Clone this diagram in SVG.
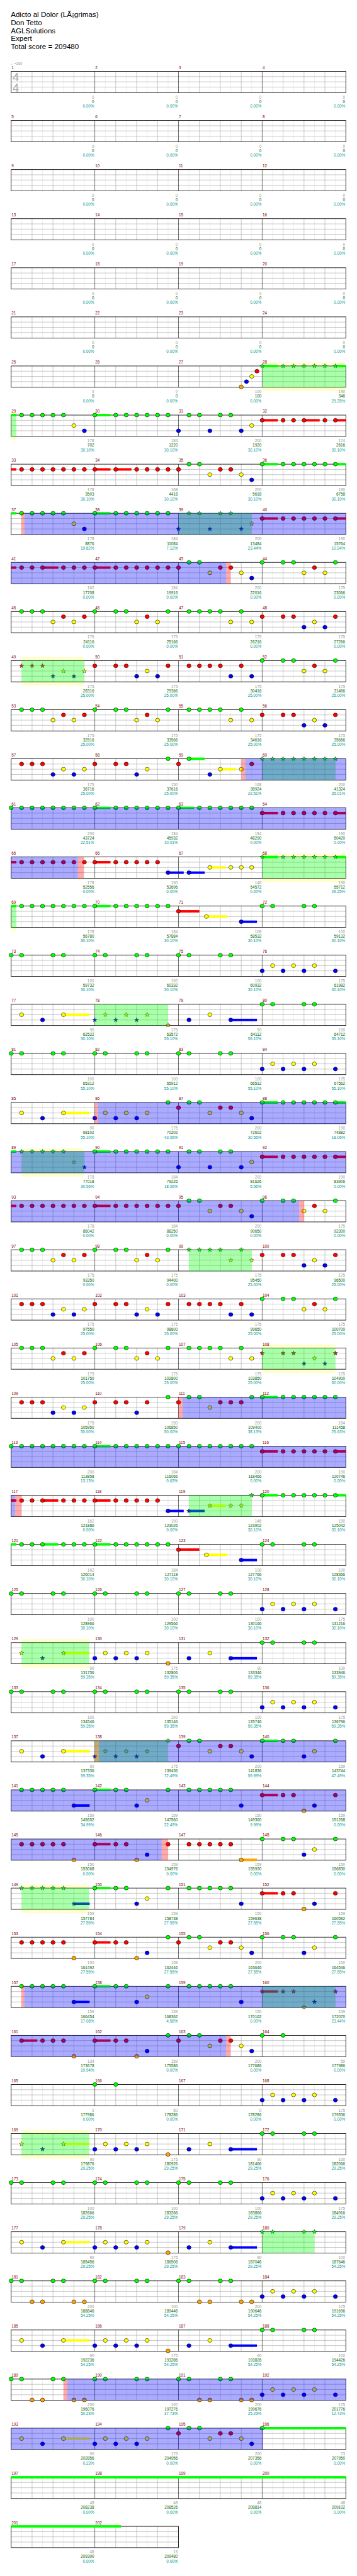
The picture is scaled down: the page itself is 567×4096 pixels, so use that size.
<svg xmlns="http://www.w3.org/2000/svg" width="567" height="4096" viewBox="0 0 567 4096">
<defs>
<style>
text{font-family:'Liberation Sans',Arial,'DejaVu Sans',sans-serif}
.t{font-size:21px;fill:#000}
.n{font-size:11.5px;fill:#800000}
.a,.c,.d{font-size:11.5px;text-anchor:end}
.a{fill:#999}.c{fill:#006400}.d{fill:#009999}
.vg{fill:#0f0;fill-opacity:.333}
.vb{fill:#00f;fill-opacity:.333}
.vp{fill:#f00;fill-opacity:.333}
.bd{fill:#ffffcc}
.sg{fill:#0f0}.sr{fill:#f00}.sy{fill:#ff0}.sb{fill:#00f}.so{fill:#ffa500}
</style>
<ellipse id="g" rx="6" ry="5.5" fill="#0f0" stroke="#000"/>
<ellipse id="r" rx="6" ry="5.5" fill="#f00" stroke="#000"/>
<ellipse id="y" rx="6" ry="5.5" fill="#ff0" stroke="#000"/>
<ellipse id="b" rx="6" ry="5.5" fill="#00f" stroke="#000"/>
<ellipse id="o" rx="6" ry="5.5" fill="#ffa500" stroke="#000"/>
<polygon id="G" points="0,-6.5 1.6,-2.2 6.2,-2 2.6,.8 3.8,5.3 0,2.7 -3.8,5.3 -2.6,.8 -6.2,-2 -1.6,-2.2" fill="#0f0" stroke="#000" stroke-width=".8"/>
<polygon id="R" points="0,-6.5 1.6,-2.2 6.2,-2 2.6,.8 3.8,5.3 0,2.7 -3.8,5.3 -2.6,.8 -6.2,-2 -1.6,-2.2" fill="#f00" stroke="#000" stroke-width=".8"/>
<polygon id="Y" points="0,-6.5 1.6,-2.2 6.2,-2 2.6,.8 3.8,5.3 0,2.7 -3.8,5.3 -2.6,.8 -6.2,-2 -1.6,-2.2" fill="#ff0" stroke="#000" stroke-width=".8"/>
<polygon id="B" points="0,-6.5 1.6,-2.2 6.2,-2 2.6,.8 3.8,5.3 0,2.7 -3.8,5.3 -2.6,.8 -6.2,-2 -1.6,-2.2" fill="#00f" stroke="#000" stroke-width=".8"/>
<polygon id="O" points="0,-6.5 1.6,-2.2 6.2,-2 2.6,.8 3.8,5.3 0,2.7 -3.8,5.3 -2.6,.8 -6.2,-2 -1.6,-2.2" fill="#ffa500" stroke="#000" stroke-width=".8"/>
<g id="grid">
<rect width="960" height="61" fill="#fff"/>
<path d="M30 0v61M90 0v61M150 0v61M210 0v61M270 0v61M330 0v61M390 0v61M450 0v61M510 0v61M570 0v61M630 0v61M690 0v61M750 0v61M810 0v61M870 0v61M930 0v61" stroke="#e2e2e2"/>
<path d="M60 0v61M120 0v61M180 0v61M300 0v61M360 0v61M420 0v61M540 0v61M600 0v61M660 0v61M780 0v61M840 0v61M900 0v61M0 15h960M0 30h960M0 45h960" stroke="#9a9a9a"/>
<path d="M240 0v61M480 0v61M720 0v61" stroke="#000"/>
<rect width="960" height="61" fill="none" stroke="#000" stroke-width="1.5"/>
</g>
<g id="grid2">
<rect width="480" height="61" fill="#fff"/>
<path d="M30 0v61M90 0v61M150 0v61M210 0v61M270 0v61M330 0v61M390 0v61M450 0v61" stroke="#e2e2e2"/>
<path d="M60 0v61M120 0v61M180 0v61M300 0v61M360 0v61M420 0v61M0 15h480M0 30h480M0 45h480" stroke="#9a9a9a"/>
<path d="M240 0v61" stroke="#000"/>
<rect width="480" height="61" fill="none" stroke="#000" stroke-width="1.5"/>
</g>
<g id="Z0">
<use href="#grid"/>
<text class="a" x="238" y="78">0</text><text class="c" x="238" y="91">0</text><text class="d" x="238" y="104">0.00%</text>
<text class="a" x="478" y="78">0</text><text class="c" x="478" y="91">0</text><text class="d" x="478" y="104">0.00%</text>
<text class="a" x="718" y="78">0</text><text class="c" x="718" y="91">0</text><text class="d" x="718" y="104">0.00%</text>
<text class="a" x="958" y="78">0</text><text class="c" x="958" y="91">0</text><text class="d" x="958" y="104">0.00%</text>
</g>
<g id="P1">
<use href="#g" x="30"/><use href="#g" x="60"/><use href="#g" x="90"/><use href="#g" x="240"/><use href="#g" x="300"/><use href="#g" x="330"/><use href="#g" x="450"/><use href="#g" x="510"/><use href="#g" x="540"/><use href="#g" x="570"/><use href="#g" x="600"/><use href="#g" x="660"/>
<use href="#r" x="150" y="15"/><use href="#r" x="210" y="15"/><use href="#r" x="390" y="15"/><use href="#r" x="720" y="15"/><use href="#r" x="780" y="15"/><use href="#r" x="810" y="15"/><use href="#r" x="930" y="15"/>
<use href="#y" x="120" y="30"/><use href="#y" x="180" y="30"/><use href="#y" x="360" y="30"/><use href="#y" x="420" y="30"/><use href="#y" x="630" y="30"/><use href="#y" x="690" y="30"/><use href="#y" x="870" y="30"/>
<use href="#b" x="840" y="45"/><use href="#b" x="900" y="45"/>
</g>
<g id="P2">
<use href="#g" x="0"/><use href="#g" x="30"/><use href="#g" x="120"/><use href="#g" x="150"/><use href="#g" x="240"/><use href="#g" x="270"/><use href="#g" x="360"/><use href="#g" x="390"/><use href="#g" x="480"/><use href="#g" x="510"/><use href="#g" x="600"/><use href="#g" x="630"/>
<use href="#y" x="750" y="30"/><use href="#y" x="810" y="30"/><use href="#y" x="870" y="30"/>
<use href="#b" x="720" y="45"/><use href="#b" x="780" y="45"/><use href="#b" x="840" y="45"/><use href="#b" x="930" y="45"/>
</g>
<g id="P3">
<use href="#P2"/>
<use href="#o" x="60" y="60"/><use href="#o" x="90" y="60"/><use href="#o" x="180" y="60"/><use href="#o" x="210" y="60"/><use href="#o" x="540" y="60"/><use href="#o" x="570" y="60"/><use href="#o" x="660" y="60"/><use href="#o" x="690" y="60"/>
</g>
<g id="P4">
<rect class="sy" x="150" y="26.5" width="75" height="7"/><rect class="sb" x="630" y="41.5" width="75" height="7"/>
<use href="#y" x="30" y="30"/><use href="#y" x="150" y="30"/><use href="#y" x="270" y="30"/><use href="#y" x="330" y="30"/><use href="#y" x="390" y="30"/><use href="#y" x="570" y="30"/>
<use href="#b" x="90" y="45"/><use href="#b" x="240" y="45"/><use href="#b" x="300" y="45"/><use href="#b" x="360" y="45"/><use href="#b" x="510" y="45"/><use href="#b" x="630" y="45"/>
<use href="#o" x="450" y="60"/>
<use href="#g" x="720"/><use href="#g" x="750"/><use href="#g" x="840"/><use href="#g" x="870"/>
</g>
<g id="P5">
<rect class="sy" x="150" y="26.5" width="75" height="7"/><rect class="sb" x="630" y="41.5" width="75" height="7"/>
<use href="#Y" x="30" y="30"/><use href="#B" x="90" y="45"/><use href="#Y" x="150" y="30"/>
<use href="#b" x="240" y="45"/><use href="#b" x="300" y="45"/><use href="#b" x="360" y="45"/><use href="#b" x="510" y="45"/><use href="#b" x="630" y="45"/>
<use href="#y" x="270" y="30"/><use href="#y" x="330" y="30"/><use href="#y" x="390" y="30"/><use href="#y" x="570" y="30"/>
<use href="#o" x="450" y="60"/>
<use href="#g" x="720"/><use href="#g" x="750"/><use href="#g" x="840"/><use href="#g" x="870"/>
</g>
</defs>
<rect width="567" height="4096" fill="#fff"/>
<g transform="scale(0.5537)">
<g id="header">
<text class="t" x="31" y="49">Adicto al Dolor (LÃ¡grimas)</text>
<text class="t" x="31" y="72">Don Tetto</text>
<text class="t" x="31" y="95">AGLSolutions</text>
<text class="t" x="31" y="118">Expert</text>
<text class="t" x="31" y="141">Total score = 209480</text>
<text x="31" y="186" font-size="10" fill="#999">♩=200</text>
</g>

<g id="row0" transform="translate(32,205)"><use href="#Z0"/>
<text x="4" y="28" font-size="33" fill="#aaa">4</text><text x="4" y="58" font-size="33" fill="#aaa">4</text>
<text class="n" x="1" y="-6.5">1</text><text class="n" x="241" y="-6.5">2</text><text class="n" x="481" y="-6.5">3</text><text class="n" x="721" y="-6.5">4</text></g>
<g id="row1" transform="translate(32,346)"><use href="#Z0"/><text class="n" x="1" y="-6.5">5</text><text class="n" x="241" y="-6.5">6</text><text class="n" x="481" y="-6.5">7</text><text class="n" x="721" y="-6.5">8</text></g>
<g id="row2" transform="translate(32,487)"><use href="#Z0"/><text class="n" x="1" y="-6.5">9</text><text class="n" x="241" y="-6.5">10</text><text class="n" x="481" y="-6.5">11</text><text class="n" x="721" y="-6.5">12</text></g>
<g id="row3" transform="translate(32,628)"><use href="#Z0"/><text class="n" x="1" y="-6.5">13</text><text class="n" x="241" y="-6.5">14</text><text class="n" x="481" y="-6.5">15</text><text class="n" x="721" y="-6.5">16</text></g>
<g id="row4" transform="translate(32,769)"><use href="#Z0"/><text class="n" x="1" y="-6.5">17</text><text class="n" x="241" y="-6.5">18</text><text class="n" x="481" y="-6.5">19</text><text class="n" x="721" y="-6.5">20</text></g>
<g id="row5" transform="translate(32,910)"><use href="#Z0"/><text class="n" x="1" y="-6.5">21</text><text class="n" x="241" y="-6.5">22</text><text class="n" x="481" y="-6.5">23</text><text class="n" x="721" y="-6.5">24</text></g>

<g id="row6" transform="translate(32,1051)">
<rect class="bd" x="720" y="-10" width="240" height="82"/><use href="#grid"/>
<rect class="sg" x="720" y="-3.5" width="45" height="7"/><rect class="sg" x="930" y="-3.5" width="30" height="7"/>
<use href="#o" x="660" y="60"/><use href="#b" x="675" y="45"/><use href="#y" x="690" y="30"/><use href="#r" x="705" y="15"/>
<use href="#G" x="720"/><use href="#G" x="780"/><use href="#G" x="810"/><use href="#G" x="840"/><use href="#G" x="870"/><use href="#G" x="900"/><use href="#G" x="930"/>
<rect class="vg" x="720" width="240" height="61"/>
<text class="n" x="1" y="-6.5">25</text><text class="n" x="241" y="-6.5">26</text><text class="n" x="481" y="-6.5">27</text><text class="n" x="721" y="-6.5">28</text>
<text class="a" x="238" y="78">0</text><text class="c" x="238" y="91">0</text><text class="d" x="238" y="104">0.00%</text>
<text class="a" x="478" y="78">0</text><text class="c" x="478" y="91">0</text><text class="d" x="478" y="104">0.00%</text>
<text class="a" x="718" y="78">100</text><text class="c" x="718" y="91">100</text><text class="d" x="718" y="104">0.00%</text>
<text class="a" x="958" y="78">190</text><text class="c" x="958" y="91">346</text><text class="d" x="958" y="104">29.25%</text>
</g>

<g id="row7" transform="translate(32,1192)">
<rect class="bd" x="0" y="-10" width="15" height="82"/><use href="#grid"/>
<rect class="sg" x="0" y="-3.5" width="15" height="7"/><rect class="sg" x="240" y="-3.5" width="45" height="7"/><rect class="sr" x="720" y="11.5" width="45" height="7"/><rect class="sr" x="840" y="11.5" width="45" height="7"/><rect class="sr" x="930" y="11.5" width="30" height="7"/>
<use href="#g" x="30"/><use href="#g" x="60"/><use href="#g" x="90"/><use href="#g" x="120"/><use href="#g" x="150"/><use href="#g" x="240"/><use href="#g" x="300"/><use href="#g" x="330"/><use href="#g" x="360"/><use href="#g" x="390"/><use href="#g" x="420"/><use href="#g" x="450"/><use href="#g" x="510"/><use href="#g" x="540"/><use href="#g" x="600"/><use href="#g" x="630"/>
<use href="#y" x="180" y="30"/><use href="#y" x="690" y="30"/>
<use href="#b" x="210" y="45"/><use href="#b" x="480" y="45"/><use href="#b" x="570" y="45"/><use href="#b" x="660" y="45"/>
<use href="#r" x="720" y="15"/><use href="#r" x="780" y="15"/><use href="#r" x="810" y="15"/><use href="#r" x="840" y="15"/><use href="#r" x="900" y="15"/><use href="#r" x="930" y="15"/>
<rect class="vg" x="0" width="15" height="61"/>
<text class="n" x="1" y="-6.5">29</text><text class="n" x="241" y="-6.5">30</text><text class="n" x="481" y="-6.5">31</text><text class="n" x="721" y="-6.5">32</text>
<text class="a" x="238" y="78">178</text><text class="c" x="238" y="91">702</text><text class="d" x="238" y="104">30.10%</text>
<text class="a" x="478" y="78">184</text><text class="c" x="478" y="91">1220</text><text class="d" x="478" y="104">30.10%</text>
<text class="a" x="718" y="78">200</text><text class="c" x="718" y="91">1920</text><text class="d" x="718" y="104">30.10%</text>
<text class="a" x="958" y="78">174</text><text class="c" x="958" y="91">2616</text><text class="d" x="958" y="104">30.10%</text>
</g>

<g id="row8" transform="translate(32,1333)">
<use href="#grid"/>
<rect class="sr" x="0" y="11.5" width="15" height="7"/><rect class="sr" x="240" y="11.5" width="45" height="7"/><rect class="sr" x="300" y="11.5" width="45" height="7"/><rect class="sg" x="720" y="-3.5" width="45" height="7"/><rect class="sg" x="930" y="-3.5" width="30" height="7"/>
<use href="#r" x="30" y="15"/><use href="#r" x="60" y="15"/><use href="#r" x="90" y="15"/><use href="#r" x="120" y="15"/><use href="#r" x="150" y="15"/><use href="#r" x="180" y="15"/><use href="#r" x="210" y="15"/><use href="#r" x="240" y="15"/><use href="#r" x="300" y="15"/><use href="#r" x="360" y="15"/><use href="#r" x="390" y="15"/><use href="#r" x="420" y="15"/><use href="#r" x="450" y="15"/><use href="#r" x="480" y="15"/>
<use href="#g" x="510"/><use href="#g" x="540"/><use href="#y" x="570" y="30"/><use href="#r" x="600" y="15"/><use href="#r" x="630" y="15"/><use href="#y" x="660" y="30"/><use href="#b" x="690" y="45"/>
<use href="#g" x="720"/><use href="#g" x="780"/><use href="#g" x="810"/><use href="#g" x="840"/><use href="#g" x="870"/><use href="#g" x="900"/><use href="#g" x="930"/>
<text class="n" x="1" y="-6.5">33</text><text class="n" x="241" y="-6.5">34</text><text class="n" x="481" y="-6.5">35</text><text class="n" x="721" y="-6.5">36</text>
<text class="a" x="238" y="78">178</text><text class="c" x="238" y="91">3503</text><text class="d" x="238" y="104">30.10%</text>
<text class="a" x="478" y="78">168</text><text class="c" x="478" y="91">4418</text><text class="d" x="478" y="104">30.10%</text>
<text class="a" x="718" y="78">200</text><text class="c" x="718" y="91">5618</text><text class="d" x="718" y="104">30.10%</text>
<text class="a" x="958" y="78">190</text><text class="c" x="958" y="91">6758</text><text class="d" x="958" y="104">30.10%</text>
</g>

<g id="row9" transform="translate(32,1474)">
<use href="#grid"/>
<rect class="sg" x="0" y="-3.5" width="15" height="7"/><rect class="sg" x="240" y="-3.5" width="45" height="7"/><rect class="sr" x="720" y="11.5" width="45" height="7"/><rect class="sr" x="930" y="11.5" width="30" height="7"/>
<use href="#g" x="30"/><use href="#g" x="60"/><use href="#g" x="90"/><use href="#g" x="120"/><use href="#g" x="150"/><use href="#g" x="240"/><use href="#g" x="300"/><use href="#g" x="330"/><use href="#g" x="360"/><use href="#g" x="390"/><use href="#g" x="420"/><use href="#g" x="450"/>
<use href="#y" x="180" y="30"/><use href="#b" x="210" y="45"/>
<use href="#G" x="510"/><use href="#G" x="540"/><use href="#G" x="600"/><use href="#G" x="630"/><use href="#B" x="480" y="45"/><use href="#B" x="570" y="45"/><use href="#B" x="660" y="45"/><use href="#Y" x="690" y="30"/>
<use href="#r" x="720" y="15"/><use href="#r" x="780" y="15"/><use href="#r" x="810" y="15"/><use href="#r" x="840" y="15"/><use href="#r" x="870" y="15"/><use href="#r" x="900" y="15"/><use href="#r" x="930" y="15"/>
<rect class="vg" x="480" width="210" height="61"/><rect class="vp" x="29" width="9" height="61"/><rect class="vb" x="38" width="922" height="61"/>
<text class="n" x="1" y="-6.5">37</text><text class="n" x="241" y="-6.5">38</text><text class="n" x="481" y="-6.5">39</text><text class="n" x="721" y="-6.5">40</text>
<text class="a" x="238" y="78">178</text><text class="c" x="238" y="91">8876</text><text class="d" x="238" y="104">19.62%</text>
<text class="a" x="478" y="78">184</text><text class="c" x="478" y="91">11084</text><text class="d" x="478" y="104">7.12%</text>
<text class="a" x="718" y="78">200</text><text class="c" x="718" y="91">13484</text><text class="d" x="718" y="104">23.44%</text>
<text class="a" x="958" y="78">190</text><text class="c" x="958" y="91">15764</text><text class="d" x="958" y="104">10.94%</text>
</g>

<g id="row10" transform="translate(32,1615)">
<use href="#grid"/>
<rect class="sr" x="0" y="11.5" width="15" height="7"/><rect class="sr" x="90" y="11.5" width="45" height="7"/><rect class="sr" x="240" y="11.5" width="45" height="7"/>
<use href="#r" x="30" y="15"/><use href="#r" x="60" y="15"/><use href="#r" x="90" y="15"/><use href="#r" x="150" y="15"/><use href="#r" x="180" y="15"/><use href="#r" x="210" y="15"/><use href="#r" x="240" y="15"/><use href="#r" x="300" y="15"/><use href="#r" x="330" y="15"/><use href="#r" x="360" y="15"/><use href="#r" x="390" y="15"/><use href="#r" x="420" y="15"/><use href="#r" x="450" y="15"/><use href="#r" x="480" y="15"/>
<use href="#g" x="510"/><use href="#g" x="540"/><use href="#y" x="570" y="30"/><use href="#r" x="600" y="15"/><use href="#r" x="630" y="15"/><use href="#y" x="660" y="30"/><use href="#b" x="690" y="45"/>
<use href="#g" x="720"/><use href="#g" x="780"/><use href="#g" x="810"/><use href="#g" x="930"/><use href="#y" x="840" y="30"/><use href="#y" x="900" y="30"/><use href="#r" x="870" y="15"/>
<rect class="vb" x="0" width="616.6" height="61"/><rect class="vp" x="616.6" width="13" height="61"/>
<text class="n" x="1" y="-6.5">41</text><text class="n" x="241" y="-6.5">42</text><text class="n" x="481" y="-6.5">43</text><text class="n" x="721" y="-6.5">44</text>
<text class="a" x="238" y="78">162</text><text class="c" x="238" y="91">17708</text><text class="d" x="238" y="104">0.00%</text>
<text class="a" x="478" y="78">184</text><text class="c" x="478" y="91">19916</text><text class="d" x="478" y="104">0.00%</text>
<text class="a" x="718" y="78">200</text><text class="c" x="718" y="91">22016</text><text class="d" x="718" y="104">0.00%</text>
<text class="a" x="958" y="78">175</text><text class="c" x="958" y="91">23066</text><text class="d" x="958" y="104">0.00%</text>
</g>

<g id="row11" transform="translate(32,1756)">
<use href="#grid"/><use href="#P1"/>
<text class="n" x="1" y="-6.5">45</text><text class="n" x="241" y="-6.5">46</text><text class="n" x="481" y="-6.5">47</text><text class="n" x="721" y="-6.5">48</text>
<text class="a" x="238" y="78">175</text><text class="c" x="238" y="91">24116</text><text class="d" x="238" y="104">0.00%</text>
<text class="a" x="478" y="78">175</text><text class="c" x="478" y="91">25166</text><text class="d" x="478" y="104">0.00%</text>
<text class="a" x="718" y="78">175</text><text class="c" x="718" y="91">26216</text><text class="d" x="718" y="104">0.00%</text>
<text class="a" x="958" y="78">175</text><text class="c" x="958" y="91">27266</text><text class="d" x="958" y="104">0.00%</text>
</g>

<g id="row12" transform="translate(32,1897)">
<rect class="bd" x="30" y="-10" width="180" height="82"/><use href="#grid"/>
<use href="#R" x="30" y="15"/><use href="#R" x="60" y="15"/><use href="#R" x="90" y="15"/><use href="#B" x="120" y="45"/><use href="#B" x="180" y="45"/><use href="#Y" x="150" y="30"/><use href="#Y" x="210" y="30"/>
<use href="#r" x="240" y="15"/><use href="#r" x="300" y="15"/><use href="#r" x="330" y="15"/><use href="#r" x="450" y="15"/><use href="#b" x="360" y="45"/><use href="#b" x="420" y="45"/><use href="#y" x="390" y="30"/>
<use href="#r" x="510" y="15"/><use href="#r" x="540" y="15"/><use href="#r" x="570" y="15"/><use href="#r" x="600" y="15"/><use href="#r" x="660" y="15"/><use href="#b" x="630" y="45"/><use href="#b" x="690" y="45"/>
<use href="#g" x="720"/><use href="#g" x="780"/><use href="#g" x="810"/><use href="#g" x="930"/><use href="#r" x="870" y="15"/><use href="#y" x="840" y="30"/><use href="#y" x="900" y="30"/>
<rect class="vg" x="30" width="180" height="61"/>
<text class="n" x="1" y="-6.5">49</text><text class="n" x="241" y="-6.5">50</text><text class="n" x="481" y="-6.5">51</text><text class="n" x="721" y="-6.5">52</text>
<text class="a" x="238" y="78">175</text><text class="c" x="238" y="91">28316</text><text class="d" x="238" y="104">25.00%</text>
<text class="a" x="478" y="78">175</text><text class="c" x="478" y="91">29366</text><text class="d" x="478" y="104">25.00%</text>
<text class="a" x="718" y="78">175</text><text class="c" x="718" y="91">30416</text><text class="d" x="718" y="104">25.00%</text>
<text class="a" x="958" y="78">175</text><text class="c" x="958" y="91">31466</text><text class="d" x="958" y="104">25.00%</text>
</g>

<g id="row13" transform="translate(32,2038)">
<use href="#grid"/><use href="#P1"/>
<text class="n" x="1" y="-6.5">53</text><text class="n" x="241" y="-6.5">54</text><text class="n" x="481" y="-6.5">55</text><text class="n" x="721" y="-6.5">56</text>
<text class="a" x="238" y="78">175</text><text class="c" x="238" y="91">32516</text><text class="d" x="238" y="104">25.00%</text>
<text class="a" x="478" y="78">175</text><text class="c" x="478" y="91">33566</text><text class="d" x="478" y="104">25.00%</text>
<text class="a" x="718" y="78">175</text><text class="c" x="718" y="91">34616</text><text class="d" x="718" y="104">25.00%</text>
<text class="a" x="958" y="78">175</text><text class="c" x="958" y="91">35666</text><text class="d" x="958" y="104">25.00%</text>
</g>

<g id="row14" transform="translate(32,2179)">
<use href="#grid"/>
<rect class="sg" x="510" y="-3.5" width="45" height="7"/><rect class="sy" x="600" y="26.5" width="45" height="7"/>
<use href="#r" x="30" y="15"/><use href="#r" x="60" y="15"/><use href="#r" x="90" y="15"/><use href="#r" x="240" y="15"/><use href="#r" x="300" y="15"/><use href="#r" x="330" y="15"/><use href="#r" x="480" y="15"/>
<use href="#b" x="120" y="45"/><use href="#b" x="180" y="45"/><use href="#b" x="360" y="45"/><use href="#b" x="570" y="45"/>
<use href="#y" x="150" y="30"/><use href="#y" x="210" y="30"/><use href="#y" x="390" y="30"/><use href="#y" x="600" y="30"/><use href="#y" x="660" y="30"/>
<use href="#g" x="450"/><use href="#g" x="510"/><use href="#r" x="690" y="15"/>
<use href="#G" x="720"/><use href="#G" x="750"/><use href="#G" x="780"/><use href="#G" x="810"/><use href="#G" x="840"/><use href="#G" x="870"/><use href="#G" x="900"/><use href="#G" x="930"/>
<rect class="vg" x="720" width="210" height="61"/><rect class="vp" x="660.4" width="11" height="61"/><rect class="vb" x="671.4" width="288.6" height="61"/>
<text class="n" x="1" y="-6.5">57</text><text class="n" x="241" y="-6.5">58</text><text class="n" x="481" y="-6.5">59</text><text class="n" x="721" y="-6.5">60</text>
<text class="a" x="238" y="78">175</text><text class="c" x="238" y="91">36716</text><text class="d" x="238" y="104">25.00%</text>
<text class="a" x="478" y="78">150</text><text class="c" x="478" y="91">37616</text><text class="d" x="478" y="104">25.00%</text>
<text class="a" x="718" y="78">168</text><text class="c" x="718" y="91">38924</text><text class="d" x="718" y="104">22.51%</text>
<text class="a" x="958" y="78">200</text><text class="c" x="958" y="91">41324</text><text class="d" x="958" y="104">35.01%</text>
</g>

<g id="row15" transform="translate(32,2320)">
<use href="#grid"/>
<rect class="sg" x="240" y="-3.5" width="45" height="7"/><rect class="sg" x="480" y="-3.5" width="45" height="7"/><rect class="sr" x="720" y="11.5" width="45" height="7"/><rect class="sr" x="930" y="11.5" width="30" height="7"/>
<use href="#g" x="0"/><use href="#g" x="30"/><use href="#g" x="60"/><use href="#g" x="90"/><use href="#g" x="120"/><use href="#g" x="150"/><use href="#g" x="180"/><use href="#g" x="210"/><use href="#g" x="240"/><use href="#g" x="300"/><use href="#g" x="330"/><use href="#g" x="360"/><use href="#g" x="390"/><use href="#g" x="420"/><use href="#g" x="450"/><use href="#g" x="480"/><use href="#g" x="540"/><use href="#g" x="570"/><use href="#g" x="600"/><use href="#g" x="630"/><use href="#g" x="660"/><use href="#g" x="690"/>
<use href="#r" x="720" y="15"/><use href="#r" x="780" y="15"/><use href="#r" x="810" y="15"/><use href="#r" x="840" y="15"/><use href="#r" x="870" y="15"/><use href="#r" x="900" y="15"/><use href="#r" x="930" y="15"/>
<rect class="vb" x="0" width="960" height="61"/>
<text class="n" x="1" y="-6.5">61</text><text class="n" x="241" y="-6.5">62</text><text class="n" x="481" y="-6.5">63</text><text class="n" x="721" y="-6.5">64</text>
<text class="a" x="238" y="78">200</text><text class="c" x="238" y="91">43724</text><text class="d" x="238" y="104">22.51%</text>
<text class="a" x="478" y="78">184</text><text class="c" x="478" y="91">45932</text><text class="d" x="478" y="104">10.01%</text>
<text class="a" x="718" y="78">184</text><text class="c" x="718" y="91">48290</text><text class="d" x="718" y="104">0.00%</text>
<text class="a" x="958" y="78">190</text><text class="c" x="958" y="91">50420</text><text class="d" x="958" y="104">0.00%</text>
</g>

<g id="row16" transform="translate(32,2461)">
<rect class="bd" x="720" y="-10" width="240" height="82"/><use href="#grid"/>
<rect class="sr" x="0" y="11.5" width="15" height="7"/><rect class="sr" x="240" y="11.5" width="45" height="7"/><rect class="sb" x="450" y="41.5" width="45" height="7"/><rect class="sb" x="510" y="41.5" width="45" height="7"/><rect class="sy" x="570" y="26.5" width="45" height="7"/><rect class="sg" x="720" y="-3.5" width="45" height="7"/><rect class="sg" x="930" y="-3.5" width="30" height="7"/>
<use href="#r" x="30" y="15"/><use href="#r" x="60" y="15"/><use href="#r" x="90" y="15"/><use href="#r" x="120" y="15"/><use href="#r" x="150" y="15"/><use href="#r" x="180" y="15"/><use href="#r" x="210" y="15"/><use href="#r" x="240" y="15"/><use href="#r" x="300" y="15"/><use href="#r" x="330" y="15"/><use href="#r" x="360" y="15"/><use href="#r" x="390" y="15"/><use href="#r" x="420" y="15"/>
<use href="#b" x="450" y="45"/><use href="#b" x="510" y="45"/><use href="#y" x="570" y="30"/><use href="#y" x="630" y="30"/><use href="#y" x="660" y="30"/><use href="#y" x="690" y="30"/>
<use href="#G" x="720"/><use href="#G" x="780"/><use href="#G" x="810"/><use href="#G" x="840"/><use href="#G" x="870"/><use href="#G" x="900"/><use href="#G" x="930"/>
<rect class="vb" x="0" width="191.4" height="61"/><rect class="vp" x="191.4" width="17" height="61"/><rect class="vg" x="720" width="240" height="61"/>
<text class="n" x="1" y="-6.5">65</text><text class="n" x="241" y="-6.5">66</text><text class="n" x="481" y="-6.5">67</text><text class="n" x="721" y="-6.5">68</text>
<text class="a" x="238" y="78">178</text><text class="c" x="238" y="91">52556</text><text class="d" x="238" y="104">0.00%</text>
<text class="a" x="478" y="78">190</text><text class="c" x="478" y="91">53696</text><text class="d" x="478" y="104">0.00%</text>
<text class="a" x="718" y="78">146</text><text class="c" x="718" y="91">54572</text><text class="d" x="718" y="104">0.00%</text>
<text class="a" x="958" y="78">190</text><text class="c" x="958" y="91">55712</text><text class="d" x="958" y="104">29.25%</text>
</g>

<g id="row17" transform="translate(32,2602)">
<rect class="bd" x="0" y="-10" width="15" height="82"/><use href="#grid"/>
<rect class="sg" x="0" y="-3.5" width="15" height="7"/><rect class="sg" x="240" y="-3.5" width="45" height="7"/><rect class="sr" x="480" y="11.5" width="60" height="7"/><rect class="sy" x="560" y="26.5" width="60" height="7"/><rect class="sb" x="660" y="41.5" width="45" height="7"/>
<use href="#g" x="30"/><use href="#g" x="60"/><use href="#g" x="90"/><use href="#g" x="120"/><use href="#g" x="150"/><use href="#g" x="180"/><use href="#g" x="210"/><use href="#g" x="240"/><use href="#g" x="300"/><use href="#g" x="330"/><use href="#g" x="360"/><use href="#g" x="390"/><use href="#g" x="420"/><use href="#g" x="450"/>
<use href="#r" x="480" y="15"/><use href="#y" x="560" y="30"/><use href="#b" x="660" y="45"/>
<use href="#g" x="720"/><use href="#g" x="750"/><use href="#g" x="840"/><use href="#g" x="870"/>
<rect class="vg" x="0" width="15" height="61"/>
<text class="n" x="1" y="-6.5">69</text><text class="n" x="241" y="-6.5">70</text><text class="n" x="481" y="-6.5">71</text><text class="n" x="721" y="-6.5">72</text>
<text class="a" x="238" y="78">178</text><text class="c" x="238" y="91">56780</text><text class="d" x="238" y="104">30.10%</text>
<text class="a" x="478" y="78">184</text><text class="c" x="478" y="91">57884</text><text class="d" x="478" y="104">30.10%</text>
<text class="a" x="718" y="78">108</text><text class="c" x="718" y="91">58532</text><text class="d" x="718" y="104">30.10%</text>
<text class="a" x="958" y="78">100</text><text class="c" x="958" y="91">59132</text><text class="d" x="958" y="104">30.10%</text>
</g>

<g id="row18" transform="translate(32,2743)">
<use href="#grid"/><use href="#P2"/>
<text class="n" x="1" y="-6.5">73</text><text class="n" x="241" y="-6.5">74</text><text class="n" x="481" y="-6.5">75</text><text class="n" x="721" y="-6.5">76</text>
<text class="a" x="238" y="78">100</text><text class="c" x="238" y="91">59732</text><text class="d" x="238" y="104">30.10%</text>
<text class="a" x="478" y="78">100</text><text class="c" x="478" y="91">60332</text><text class="d" x="478" y="104">30.10%</text>
<text class="a" x="718" y="78">100</text><text class="c" x="718" y="91">60932</text><text class="d" x="718" y="104">30.10%</text>
<text class="a" x="958" y="78">175</text><text class="c" x="958" y="91">61982</text><text class="d" x="958" y="104">30.10%</text>
</g>

<g id="row19" transform="translate(32,2884)">
<use href="#grid"/>
<rect class="sy" x="150" y="26.5" width="75" height="7"/><rect class="sb" x="630" y="41.5" width="75" height="7"/>
<use href="#y" x="30" y="30"/><use href="#y" x="150" y="30"/><use href="#b" x="90" y="45"/>
<use href="#B" x="240" y="45"/><use href="#B" x="300" y="45"/><use href="#B" x="360" y="45"/><use href="#Y" x="270" y="30"/><use href="#Y" x="330" y="30"/><use href="#Y" x="390" y="30"/><use href="#O" x="450" y="60"/>
<use href="#b" x="510" y="45"/><use href="#y" x="570" y="30"/><use href="#b" x="630" y="45"/>
<use href="#g" x="720"/><use href="#g" x="750"/><use href="#g" x="840"/><use href="#g" x="870"/>
<rect class="vg" x="240" width="210" height="61"/>
<text class="n" x="1" y="-6.5">77</text><text class="n" x="241" y="-6.5">78</text><text class="n" x="481" y="-6.5">79</text><text class="n" x="721" y="-6.5">80</text>
<text class="a" x="238" y="78">90</text><text class="c" x="238" y="91">62522</text><text class="d" x="238" y="104">30.10%</text>
<text class="a" x="478" y="78">175</text><text class="c" x="478" y="91">63572</text><text class="d" x="478" y="104">55.10%</text>
<text class="a" x="718" y="78">90</text><text class="c" x="718" y="91">64112</text><text class="d" x="718" y="104">55.10%</text>
<text class="a" x="958" y="78">100</text><text class="c" x="958" y="91">64712</text><text class="d" x="958" y="104">55.10%</text>
</g>

<g id="row20" transform="translate(32,3025)">
<use href="#grid"/><use href="#P2"/>
<text class="n" x="1" y="-6.5">81</text><text class="n" x="241" y="-6.5">82</text><text class="n" x="481" y="-6.5">83</text><text class="n" x="721" y="-6.5">84</text>
<text class="a" x="238" y="78">100</text><text class="c" x="238" y="91">65312</text><text class="d" x="238" y="104">55.10%</text>
<text class="a" x="478" y="78">100</text><text class="c" x="478" y="91">65912</text><text class="d" x="478" y="104">55.10%</text>
<text class="a" x="718" y="78">100</text><text class="c" x="718" y="91">66512</text><text class="d" x="718" y="104">55.10%</text>
<text class="a" x="958" y="78">175</text><text class="c" x="958" y="91">67562</text><text class="d" x="958" y="104">55.10%</text>
</g>

<g id="row21" transform="translate(32,3166)">
<use href="#grid"/>
<rect class="sy" x="150" y="26.5" width="75" height="7"/><rect class="sg" x="720" y="-3.5" width="45" height="7"/><rect class="sg" x="930" y="-3.5" width="30" height="7"/>
<use href="#y" x="30" y="30"/><use href="#y" x="150" y="30"/><use href="#b" x="90" y="45"/><use href="#b" x="240" y="45"/>
<use href="#y" x="270" y="30"/><use href="#y" x="330" y="30"/><use href="#y" x="390" y="30"/><use href="#b" x="300" y="45"/><use href="#b" x="360" y="45"/>
<use href="#g" x="450"/><use href="#g" x="510"/><use href="#g" x="540"/><use href="#r" x="480" y="15"/><use href="#r" x="600" y="15"/><use href="#r" x="630" y="15"/><use href="#y" x="570" y="30"/><use href="#y" x="660" y="30"/><use href="#b" x="690" y="45"/>
<use href="#g" x="720"/><use href="#g" x="780"/><use href="#g" x="810"/><use href="#g" x="840"/><use href="#g" x="870"/><use href="#g" x="900"/><use href="#g" x="930"/>
<rect class="vp" x="240" width="8.5" height="61"/><rect class="vb" x="248.5" width="711.5" height="61"/>
<text class="n" x="1" y="-6.5">85</text><text class="n" x="241" y="-6.5">86</text><text class="n" x="481" y="-6.5">87</text><text class="n" x="721" y="-6.5">88</text>
<text class="a" x="238" y="78">90</text><text class="c" x="238" y="91">68102</text><text class="d" x="238" y="104">55.10%</text>
<text class="a" x="478" y="78">175</text><text class="c" x="478" y="91">70202</text><text class="d" x="478" y="104">43.06%</text>
<text class="a" x="718" y="78">200</text><text class="c" x="718" y="91">72602</text><text class="d" x="718" y="104">30.56%</text>
<text class="a" x="958" y="78">190</text><text class="c" x="958" y="91">74882</text><text class="d" x="958" y="104">18.06%</text>
</g>

<g id="row22" transform="translate(32,3307)">
<rect class="bd" x="30" y="-10" width="180" height="82"/><use href="#grid"/>
<rect class="sg" x="0" y="-3.5" width="15" height="7"/><rect class="sg" x="240" y="-3.5" width="45" height="7"/><rect class="sr" x="720" y="11.5" width="45" height="7"/><rect class="sr" x="930" y="11.5" width="30" height="7"/>
<use href="#G" x="30"/><use href="#G" x="60"/><use href="#G" x="90"/><use href="#G" x="120"/><use href="#G" x="150"/><use href="#Y" x="180" y="30"/><use href="#B" x="210" y="45"/>
<use href="#g" x="240"/><use href="#g" x="300"/><use href="#g" x="330"/><use href="#g" x="360"/><use href="#g" x="390"/><use href="#g" x="420"/><use href="#g" x="450"/><use href="#g" x="510"/><use href="#g" x="540"/><use href="#g" x="600"/><use href="#g" x="630"/>
<use href="#b" x="480" y="45"/><use href="#b" x="570" y="45"/><use href="#b" x="660" y="45"/><use href="#y" x="690" y="30"/>
<use href="#r" x="720" y="15"/><use href="#r" x="780" y="15"/><use href="#r" x="810" y="15"/><use href="#r" x="840" y="15"/><use href="#r" x="870" y="15"/><use href="#r" x="900" y="15"/><use href="#r" x="930" y="15"/>
<rect class="vg" x="30" width="180" height="61"/><rect class="vb" x="0" width="960" height="61"/>
<text class="n" x="1" y="-6.5">89</text><text class="n" x="241" y="-6.5">90</text><text class="n" x="481" y="-6.5">91</text><text class="n" x="721" y="-6.5">92</text>
<text class="a" x="238" y="78">178</text><text class="c" x="238" y="91">77018</text><text class="d" x="238" y="104">30.56%</text>
<text class="a" x="478" y="78">184</text><text class="c" x="478" y="91">79226</text><text class="d" x="478" y="104">18.06%</text>
<text class="a" x="718" y="78">200</text><text class="c" x="718" y="91">81626</text><text class="d" x="718" y="104">5.56%</text>
<text class="a" x="958" y="78">190</text><text class="c" x="958" y="91">83906</text><text class="d" x="958" y="104">0.00%</text>
</g>

<g id="row23" transform="translate(32,3448)">
<use href="#grid"/>
<rect class="sr" x="0" y="11.5" width="15" height="7"/><rect class="sr" x="240" y="11.5" width="45" height="7"/>
<use href="#r" x="30" y="15"/><use href="#r" x="60" y="15"/><use href="#r" x="90" y="15"/><use href="#r" x="120" y="15"/><use href="#r" x="150" y="15"/><use href="#r" x="180" y="15"/><use href="#r" x="210" y="15"/><use href="#r" x="240" y="15"/><use href="#r" x="300" y="15"/><use href="#r" x="330" y="15"/><use href="#r" x="360" y="15"/><use href="#r" x="390" y="15"/><use href="#r" x="420" y="15"/><use href="#r" x="450" y="15"/><use href="#r" x="480" y="15"/>
<use href="#g" x="510"/><use href="#g" x="540"/><use href="#y" x="570" y="30"/><use href="#y" x="660" y="30"/><use href="#r" x="600" y="15"/><use href="#r" x="630" y="15"/><use href="#b" x="690" y="45"/>
<use href="#g" x="720"/><use href="#g" x="780"/><use href="#g" x="810"/><use href="#g" x="930"/><use href="#y" x="840" y="30"/><use href="#y" x="900" y="30"/><use href="#r" x="870" y="15"/>
<rect class="vb" x="0" width="826.3" height="61"/><rect class="vp" x="826.3" width="13.7" height="61"/>
<text class="n" x="1" y="-6.5">93</text><text class="n" x="241" y="-6.5">94</text><text class="n" x="481" y="-6.5">95</text><text class="n" x="721" y="-6.5">96</text>
<text class="a" x="238" y="78">178</text><text class="c" x="238" y="91">86042</text><text class="d" x="238" y="104">0.00%</text>
<text class="a" x="478" y="78">184</text><text class="c" x="478" y="91">88250</text><text class="d" x="478" y="104">0.00%</text>
<text class="a" x="718" y="78">200</text><text class="c" x="718" y="91">90650</text><text class="d" x="718" y="104">0.00%</text>
<text class="a" x="958" y="78">175</text><text class="c" x="958" y="91">92300</text><text class="d" x="958" y="104">0.00%</text>
</g>

<g id="row24" transform="translate(32,3589)">
<use href="#grid"/>
<use href="#g" x="30"/><use href="#g" x="60"/><use href="#g" x="90"/><use href="#g" x="240"/><use href="#g" x="300"/><use href="#g" x="330"/><use href="#g" x="450"/>
<use href="#r" x="150" y="15"/><use href="#r" x="210" y="15"/><use href="#r" x="390" y="15"/>
<use href="#y" x="120" y="30"/><use href="#y" x="180" y="30"/><use href="#y" x="360" y="30"/><use href="#y" x="420" y="30"/>
<use href="#G" x="510"/><use href="#G" x="540"/><use href="#G" x="570"/><use href="#G" x="600"/><use href="#G" x="660"/><use href="#Y" x="630" y="30"/><use href="#Y" x="690" y="30"/>
<use href="#r" x="720" y="15"/><use href="#r" x="780" y="15"/><use href="#r" x="810" y="15"/><use href="#r" x="930" y="15"/><use href="#y" x="870" y="30"/><use href="#b" x="840" y="45"/><use href="#b" x="900" y="45"/>
<rect class="vg" x="510" width="180" height="61"/>
<text class="n" x="1" y="-6.5">97</text><text class="n" x="241" y="-6.5">98</text><text class="n" x="481" y="-6.5">99</text><text class="n" x="721" y="-6.5">100</text>
<text class="a" x="238" y="78">175</text><text class="c" x="238" y="91">93350</text><text class="d" x="238" y="104">0.00%</text>
<text class="a" x="478" y="78">175</text><text class="c" x="478" y="91">94400</text><text class="d" x="478" y="104">0.00%</text>
<text class="a" x="718" y="78">175</text><text class="c" x="718" y="91">95450</text><text class="d" x="718" y="104">25.00%</text>
<text class="a" x="958" y="78">175</text><text class="c" x="958" y="91">96500</text><text class="d" x="958" y="104">25.00%</text>
</g>

<g id="row25" transform="translate(32,3730)">
<use href="#grid"/>
<use href="#r" x="30" y="15"/><use href="#r" x="60" y="15"/><use href="#r" x="90" y="15"/><use href="#r" x="240" y="15"/><use href="#r" x="300" y="15"/><use href="#r" x="330" y="15"/><use href="#r" x="450" y="15"/>
<use href="#y" x="150" y="30"/><use href="#y" x="210" y="30"/><use href="#y" x="390" y="30"/>
<use href="#b" x="120" y="45"/><use href="#b" x="180" y="45"/><use href="#b" x="360" y="45"/><use href="#b" x="420" y="45"/>
<use href="#r" x="510" y="15"/><use href="#r" x="540" y="15"/><use href="#r" x="570" y="15"/><use href="#r" x="600" y="15"/><use href="#r" x="660" y="15"/><use href="#b" x="630" y="45"/><use href="#b" x="690" y="45"/>
<use href="#g" x="720"/><use href="#g" x="780"/><use href="#g" x="810"/><use href="#g" x="930"/><use href="#r" x="870" y="15"/><use href="#y" x="840" y="30"/><use href="#y" x="900" y="30"/>
<text class="n" x="1" y="-6.5">101</text><text class="n" x="241" y="-6.5">102</text><text class="n" x="481" y="-6.5">103</text><text class="n" x="721" y="-6.5">104</text>
<text class="a" x="238" y="78">175</text><text class="c" x="238" y="91">97550</text><text class="d" x="238" y="104">25.00%</text>
<text class="a" x="478" y="78">175</text><text class="c" x="478" y="91">98600</text><text class="d" x="478" y="104">25.00%</text>
<text class="a" x="718" y="78">175</text><text class="c" x="718" y="91">99650</text><text class="d" x="718" y="104">25.00%</text>
<text class="a" x="958" y="78">175</text><text class="c" x="958" y="91">100700</text><text class="d" x="958" y="104">25.00%</text>
</g>

<g id="row26" transform="translate(32,3871)">
<rect class="bd" x="720" y="-10" width="210" height="82"/><use href="#grid"/>
<use href="#g" x="30"/><use href="#g" x="60"/><use href="#g" x="90"/><use href="#g" x="240"/><use href="#g" x="300"/><use href="#g" x="330"/><use href="#g" x="450"/><use href="#g" x="510"/><use href="#g" x="540"/><use href="#g" x="570"/><use href="#g" x="600"/><use href="#g" x="660"/>
<use href="#r" x="150" y="15"/><use href="#r" x="210" y="15"/><use href="#r" x="390" y="15"/>
<use href="#y" x="120" y="30"/><use href="#y" x="180" y="30"/><use href="#y" x="360" y="30"/><use href="#y" x="420" y="30"/><use href="#y" x="630" y="30"/><use href="#y" x="690" y="30"/>
<use href="#R" x="720" y="15"/><use href="#R" x="780" y="15"/><use href="#R" x="810" y="15"/><use href="#R" x="930" y="15"/><use href="#Y" x="870" y="30"/><use href="#B" x="840" y="45"/><use href="#B" x="900" y="45"/>
<rect class="vg" x="720" width="210" height="61"/>
<text class="n" x="1" y="-6.5">105</text><text class="n" x="241" y="-6.5">106</text><text class="n" x="481" y="-6.5">107</text><text class="n" x="721" y="-6.5">108</text>
<text class="a" x="238" y="78">175</text><text class="c" x="238" y="91">101750</text><text class="d" x="238" y="104">25.00%</text>
<text class="a" x="478" y="78">175</text><text class="c" x="478" y="91">102800</text><text class="d" x="478" y="104">25.00%</text>
<text class="a" x="718" y="78">175</text><text class="c" x="718" y="91">103850</text><text class="d" x="718" y="104">25.00%</text>
<text class="a" x="958" y="78">175</text><text class="c" x="958" y="91">104900</text><text class="d" x="958" y="104">50.00%</text>
</g>

<g id="row27" transform="translate(32,4012)">
<use href="#grid"/>
<rect class="sg" x="720" y="-3.5" width="45" height="7"/>
<use href="#r" x="30" y="15"/><use href="#r" x="60" y="15"/><use href="#r" x="90" y="15"/><use href="#r" x="240" y="15"/><use href="#r" x="300" y="15"/><use href="#r" x="330" y="15"/><use href="#r" x="390" y="15"/><use href="#r" x="480" y="15"/>
<use href="#y" x="150" y="30"/><use href="#y" x="210" y="30"/><use href="#b" x="120" y="45"/><use href="#b" x="180" y="45"/><use href="#b" x="360" y="45"/><use href="#g" x="450"/>
<use href="#g" x="510"/><use href="#g" x="540"/><use href="#g" x="690"/><use href="#g" x="720"/><use href="#g" x="780"/><use href="#g" x="810"/><use href="#g" x="840"/><use href="#g" x="870"/><use href="#g" x="900"/><use href="#g" x="930"/>
<use href="#y" x="570" y="30"/><use href="#r" x="600" y="15"/><use href="#r" x="630" y="15"/><use href="#r" x="660" y="15"/>
<rect class="vp" x="480" width="11.8" height="61"/><rect class="vb" x="491.8" width="468.2" height="61"/>
<text class="n" x="1" y="-6.5">109</text><text class="n" x="241" y="-6.5">110</text><text class="n" x="481" y="-6.5">111</text><text class="n" x="721" y="-6.5">112</text>
<text class="a" x="238" y="78">175</text><text class="c" x="238" y="91">105950</text><text class="d" x="238" y="104">50.00%</text>
<text class="a" x="478" y="78">150</text><text class="c" x="478" y="91">106850</text><text class="d" x="478" y="104">50.00%</text>
<text class="a" x="718" y="78">200</text><text class="c" x="718" y="91">109400</text><text class="d" x="718" y="104">38.13%</text>
<text class="a" x="958" y="78">184</text><text class="c" x="958" y="91">111458</text><text class="d" x="958" y="104">25.63%</text>
</g>

<g id="row28" transform="translate(32,4153)">
<use href="#grid"/>
<rect class="sg" x="240" y="-3.5" width="45" height="7"/><rect class="sr" x="720" y="11.5" width="45" height="7"/><rect class="sr" x="930" y="11.5" width="30" height="7"/>
<use href="#g" x="0"/><use href="#g" x="30"/><use href="#g" x="60"/><use href="#g" x="90"/><use href="#g" x="120"/><use href="#g" x="150"/><use href="#g" x="180"/><use href="#g" x="210"/><use href="#g" x="240"/><use href="#g" x="300"/><use href="#g" x="330"/><use href="#g" x="360"/><use href="#g" x="390"/><use href="#g" x="420"/><use href="#g" x="450"/><use href="#g" x="480"/><use href="#g" x="510"/><use href="#g" x="540"/><use href="#g" x="570"/><use href="#g" x="600"/><use href="#g" x="630"/><use href="#g" x="660"/><use href="#g" x="690"/>
<use href="#r" x="720" y="15"/><use href="#r" x="780" y="15"/><use href="#r" x="810" y="15"/><use href="#r" x="840" y="15"/><use href="#r" x="870" y="15"/><use href="#r" x="900" y="15"/><use href="#r" x="930" y="15"/>
<rect class="vb" x="0" width="960" height="61"/>
<text class="n" x="1" y="-6.5">113</text><text class="n" x="241" y="-6.5">114</text><text class="n" x="481" y="-6.5">115</text><text class="n" x="721" y="-6.5">116</text>
<text class="a" x="238" y="78">200</text><text class="c" x="238" y="91">113858</text><text class="d" x="238" y="104">13.13%</text>
<text class="a" x="478" y="78">184</text><text class="c" x="478" y="91">116066</text><text class="d" x="478" y="104">0.63%</text>
<text class="a" x="718" y="78">200</text><text class="c" x="718" y="91">118466</text><text class="d" x="718" y="104">0.00%</text>
<text class="a" x="958" y="78">190</text><text class="c" x="958" y="91">120746</text><text class="d" x="958" y="104">0.00%</text>
</g>

<g id="row29" transform="translate(32,4294)">
<use href="#grid"/>
<rect class="sr" x="0" y="11.5" width="15" height="7"/><rect class="sr" x="90" y="11.5" width="45" height="7"/><rect class="sr" x="240" y="11.5" width="45" height="7"/><rect class="sb" x="450" y="41.5" width="45" height="7"/><rect class="sb" x="510" y="41.5" width="45" height="7"/><rect class="sy" x="570" y="26.5" width="45" height="7"/><rect class="sg" x="720" y="-3.5" width="45" height="7"/><rect class="sg" x="930" y="-3.5" width="30" height="7"/>
<use href="#r" x="30" y="15"/><use href="#r" x="60" y="15"/><use href="#r" x="90" y="15"/><use href="#r" x="150" y="15"/><use href="#r" x="180" y="15"/><use href="#r" x="210" y="15"/><use href="#r" x="240" y="15"/><use href="#r" x="300" y="15"/><use href="#r" x="330" y="15"/><use href="#r" x="360" y="15"/><use href="#r" x="390" y="15"/><use href="#r" x="420" y="15"/>
<use href="#b" x="450" y="45"/><use href="#B" x="510" y="45"/><use href="#Y" x="570" y="30"/><use href="#Y" x="630" y="30"/><use href="#Y" x="660" y="30"/><use href="#G" x="690"/>
<use href="#g" x="720"/><use href="#g" x="780"/><use href="#g" x="810"/><use href="#g" x="840"/><use href="#g" x="870"/><use href="#g" x="900"/><use href="#g" x="930"/>
<rect class="vb" x="0" width="11.8" height="61"/><rect class="vp" x="11.8" width="18.2" height="61"/><rect class="vg" x="510" width="180" height="61"/>
<text class="n" x="1" y="-6.5">117</text><text class="n" x="241" y="-6.5">118</text><text class="n" x="481" y="-6.5">119</text><text class="n" x="721" y="-6.5">120</text>
<text class="a" x="238" y="78">162</text><text class="c" x="238" y="91">121886</text><text class="d" x="238" y="104">0.00%</text>
<text class="a" x="478" y="78">190</text><text class="c" x="478" y="91">123026</text><text class="d" x="478" y="104">0.00%</text>
<text class="a" x="718" y="78">146</text><text class="c" x="718" y="91">123902</text><text class="d" x="718" y="104">30.10%</text>
<text class="a" x="958" y="78">190</text><text class="c" x="958" y="91">125042</text><text class="d" x="958" y="104">30.10%</text>
</g>

<g id="row30" transform="translate(32,4435)">
<use href="#grid"/>
<rect class="sg" x="0" y="-3.5" width="15" height="7"/><rect class="sg" x="90" y="-3.5" width="45" height="7"/><rect class="sg" x="240" y="-3.5" width="45" height="7"/><rect class="sr" x="480" y="11.5" width="60" height="7"/><rect class="sy" x="560" y="26.5" width="60" height="7"/><rect class="sb" x="660" y="41.5" width="45" height="7"/>
<use href="#g" x="30"/><use href="#g" x="60"/><use href="#g" x="90"/><use href="#g" x="150"/><use href="#g" x="180"/><use href="#g" x="210"/><use href="#g" x="240"/><use href="#g" x="300"/><use href="#g" x="330"/><use href="#g" x="360"/><use href="#g" x="390"/><use href="#g" x="420"/><use href="#g" x="450"/>
<use href="#r" x="480" y="15"/><use href="#y" x="560" y="30"/><use href="#b" x="660" y="45"/>
<use href="#g" x="720"/><use href="#g" x="750"/><use href="#g" x="840"/><use href="#g" x="870"/>
<text class="n" x="1" y="-6.5">121</text><text class="n" x="241" y="-6.5">122</text><text class="n" x="481" y="-6.5">123</text><text class="n" x="721" y="-6.5">124</text>
<text class="a" x="238" y="78">162</text><text class="c" x="238" y="91">126014</text><text class="d" x="238" y="104">30.10%</text>
<text class="a" x="478" y="78">184</text><text class="c" x="478" y="91">127118</text><text class="d" x="478" y="104">30.10%</text>
<text class="a" x="718" y="78">108</text><text class="c" x="718" y="91">127766</text><text class="d" x="718" y="104">30.10%</text>
<text class="a" x="958" y="78">100</text><text class="c" x="958" y="91">128366</text><text class="d" x="958" y="104">30.10%</text>
</g>

<g id="row31" transform="translate(32,4576)">
<use href="#grid"/><use href="#P2"/>
<text class="n" x="1" y="-6.5">125</text><text class="n" x="241" y="-6.5">126</text><text class="n" x="481" y="-6.5">127</text><text class="n" x="721" y="-6.5">128</text>
<text class="a" x="238" y="78">100</text><text class="c" x="238" y="91">128966</text><text class="d" x="238" y="104">30.10%</text>
<text class="a" x="478" y="78">100</text><text class="c" x="478" y="91">129566</text><text class="d" x="478" y="104">30.10%</text>
<text class="a" x="718" y="78">100</text><text class="c" x="718" y="91">130166</text><text class="d" x="718" y="104">30.10%</text>
<text class="a" x="958" y="78">175</text><text class="c" x="958" y="91">131216</text><text class="d" x="958" y="104">30.10%</text>
</g>

<g id="row32" transform="translate(32,4717)">
<rect class="bd" x="30" y="-10" width="194" height="82"/><use href="#grid"/><use href="#P5"/>
<rect class="vg" x="30" width="194" height="61"/>
<text class="n" x="1" y="-6.5">129</text><text class="n" x="241" y="-6.5">130</text><text class="n" x="481" y="-6.5">131</text><text class="n" x="721" y="-6.5">132</text>
<text class="a" x="238" y="78">90</text><text class="c" x="238" y="91">131756</text><text class="d" x="238" y="104">59.35%</text>
<text class="a" x="478" y="78">175</text><text class="c" x="478" y="91">132806</text><text class="d" x="478" y="104">59.35%</text>
<text class="a" x="718" y="78">90</text><text class="c" x="718" y="91">133346</text><text class="d" x="718" y="104">59.35%</text>
<text class="a" x="958" y="78">100</text><text class="c" x="958" y="91">133946</text><text class="d" x="958" y="104">59.35%</text>
</g>

<g id="row33" transform="translate(32,4858)">
<use href="#grid"/><use href="#P2"/>
<text class="n" x="1" y="-6.5">133</text><text class="n" x="241" y="-6.5">134</text><text class="n" x="481" y="-6.5">135</text><text class="n" x="721" y="-6.5">136</text>
<text class="a" x="238" y="78">100</text><text class="c" x="238" y="91">134546</text><text class="d" x="238" y="104">59.35%</text>
<text class="a" x="478" y="78">100</text><text class="c" x="478" y="91">135146</text><text class="d" x="478" y="104">59.35%</text>
<text class="a" x="718" y="78">100</text><text class="c" x="718" y="91">135746</text><text class="d" x="718" y="104">59.35%</text>
<text class="a" x="958" y="78">175</text><text class="c" x="958" y="91">136796</text><text class="d" x="958" y="104">59.35%</text>
</g>

<g id="row34" transform="translate(32,4999)">
<use href="#grid"/>
<rect class="sy" x="150" y="26.5" width="75" height="7"/><rect class="sg" x="720" y="-3.5" width="45" height="7"/>
<use href="#y" x="30" y="30"/><use href="#y" x="150" y="30"/><use href="#b" x="90" y="45"/>
<use href="#B" x="240" y="45"/><use href="#B" x="300" y="45"/><use href="#B" x="360" y="45"/><use href="#Y" x="270" y="30"/><use href="#Y" x="330" y="30"/><use href="#Y" x="390" y="30"/><use href="#G" x="450"/>
<use href="#r" x="480" y="15"/><use href="#r" x="600" y="15"/><use href="#r" x="630" y="15"/><use href="#g" x="510"/><use href="#g" x="540"/><use href="#y" x="570" y="30"/><use href="#y" x="660" y="30"/><use href="#y" x="870" y="30"/><use href="#b" x="690" y="45"/><use href="#b" x="840" y="45"/>
<use href="#g" x="720"/><use href="#g" x="780"/><use href="#g" x="810"/><use href="#g" x="930"/>
<rect class="vg" x="240" width="210" height="61"/><rect class="vp" x="240" width="11.8" height="61"/><rect class="vb" x="251.8" width="708.2" height="61"/>
<text class="n" x="1" y="-6.5">137</text><text class="n" x="241" y="-6.5">138</text><text class="n" x="481" y="-6.5">139</text><text class="n" x="721" y="-6.5">140</text>
<text class="a" x="238" y="78">90</text><text class="c" x="238" y="91">137336</text><text class="d" x="238" y="104">59.35%</text>
<text class="a" x="478" y="78">175</text><text class="c" x="478" y="91">139436</text><text class="d" x="478" y="104">72.49%</text>
<text class="a" x="718" y="78">200</text><text class="c" x="718" y="91">141836</text><text class="d" x="718" y="104">59.99%</text>
<text class="a" x="958" y="78">159</text><text class="c" x="958" y="91">143744</text><text class="d" x="958" y="104">47.49%</text>
</g>

<g id="row35" transform="translate(32,5140)">
<use href="#grid"/>
<rect class="sb" x="180" y="41.5" width="45" height="7"/><rect class="sg" x="240" y="-3.5" width="45" height="7"/><rect class="sr" x="720" y="11.5" width="45" height="7"/>
<use href="#g" x="30"/><use href="#g" x="60"/><use href="#g" x="90"/><use href="#g" x="120"/><use href="#g" x="150"/><use href="#g" x="240"/><use href="#g" x="300"/><use href="#g" x="330"/><use href="#g" x="450"/><use href="#g" x="510"/><use href="#g" x="540"/><use href="#g" x="570"/><use href="#g" x="600"/><use href="#g" x="630"/>
<use href="#b" x="180" y="45"/><use href="#b" x="360" y="45"/><use href="#b" x="660" y="45"/><use href="#b" x="870" y="45"/><use href="#y" x="390" y="30"/>
<use href="#r" x="720" y="15"/><use href="#r" x="780" y="15"/><use href="#r" x="810" y="15"/><use href="#r" x="930" y="15"/><use href="#o" x="840" y="60"/>
<rect class="vb" x="0" width="960" height="61"/>
<text class="n" x="1" y="-6.5">141</text><text class="n" x="241" y="-6.5">142</text><text class="n" x="481" y="-6.5">143</text><text class="n" x="721" y="-6.5">144</text>
<text class="a" x="238" y="78">159</text><text class="c" x="238" y="91">145652</text><text class="d" x="238" y="104">34.99%</text>
<text class="a" x="478" y="78">159</text><text class="c" x="478" y="91">147560</text><text class="d" x="478" y="104">22.49%</text>
<text class="a" x="718" y="78">150</text><text class="c" x="718" y="91">149360</text><text class="d" x="718" y="104">9.99%</text>
<text class="a" x="958" y="78">159</text><text class="c" x="958" y="91">151268</text><text class="d" x="958" y="104">0.00%</text>
</g>

<g id="row36" transform="translate(32,5281)">
<use href="#grid"/>
<rect class="sr" x="240" y="11.5" width="45" height="7"/><rect class="so" x="660" y="56.5" width="45" height="7"/>
<use href="#r" x="30" y="15"/><use href="#r" x="60" y="15"/><use href="#r" x="90" y="15"/><use href="#r" x="120" y="15"/><use href="#r" x="150" y="15"/><use href="#r" x="240" y="15"/><use href="#r" x="300" y="15"/><use href="#r" x="330" y="15"/><use href="#r" x="450" y="15"/><use href="#r" x="510" y="15"/><use href="#r" x="540" y="15"/><use href="#r" x="570" y="15"/><use href="#r" x="600" y="15"/><use href="#r" x="630" y="15"/>
<use href="#o" x="180" y="60"/><use href="#o" x="360" y="60"/><use href="#o" x="660" y="60"/><use href="#b" x="390" y="45"/><use href="#b" x="840" y="45"/>
<use href="#g" x="720"/><use href="#g" x="780"/><use href="#g" x="810"/><use href="#g" x="930"/><use href="#y" x="870" y="30"/>
<rect class="vb" x="0" width="431.7" height="61"/><rect class="vp" x="431.7" width="18.3" height="61"/>
<text class="n" x="1" y="-6.5">145</text><text class="n" x="241" y="-6.5">146</text><text class="n" x="481" y="-6.5">147</text><text class="n" x="721" y="-6.5">148</text>
<text class="a" x="238" y="78">150</text><text class="c" x="238" y="91">153068</text><text class="d" x="238" y="104">0.00%</text>
<text class="a" x="478" y="78">159</text><text class="c" x="478" y="91">154976</text><text class="d" x="478" y="104">0.00%</text>
<text class="a" x="718" y="78">159</text><text class="c" x="718" y="91">155930</text><text class="d" x="718" y="104">0.00%</text>
<text class="a" x="958" y="78">150</text><text class="c" x="958" y="91">156830</text><text class="d" x="958" y="104">0.00%</text>
</g>

<g id="row37" transform="translate(32,5422)">
<rect class="bd" x="30" y="-10" width="194" height="82"/><use href="#grid"/>
<rect class="sb" x="180" y="41.5" width="45" height="7"/><rect class="sg" x="240" y="-3.5" width="45" height="7"/><rect class="sr" x="720" y="11.5" width="45" height="7"/>
<use href="#G" x="30"/><use href="#G" x="60"/><use href="#G" x="90"/><use href="#G" x="120"/><use href="#G" x="150"/><use href="#B" x="180" y="45"/>
<use href="#g" x="240"/><use href="#g" x="300"/><use href="#g" x="330"/><use href="#g" x="450"/><use href="#g" x="510"/><use href="#g" x="540"/><use href="#g" x="570"/><use href="#g" x="600"/><use href="#g" x="630"/>
<use href="#b" x="360" y="45"/><use href="#b" x="660" y="45"/><use href="#b" x="870" y="45"/><use href="#y" x="390" y="30"/>
<use href="#r" x="720" y="15"/><use href="#r" x="780" y="15"/><use href="#r" x="810" y="15"/><use href="#r" x="930" y="15"/><use href="#o" x="840" y="60"/>
<rect class="vg" x="30" width="194" height="61"/>
<text class="n" x="1" y="-6.5">149</text><text class="n" x="241" y="-6.5">150</text><text class="n" x="481" y="-6.5">151</text><text class="n" x="721" y="-6.5">152</text>
<text class="a" x="238" y="78">159</text><text class="c" x="238" y="91">157784</text><text class="d" x="238" y="104">27.55%</text>
<text class="a" x="478" y="78">159</text><text class="c" x="478" y="91">158738</text><text class="d" x="478" y="104">27.55%</text>
<text class="a" x="718" y="78">150</text><text class="c" x="718" y="91">159638</text><text class="d" x="718" y="104">27.55%</text>
<text class="a" x="958" y="78">159</text><text class="c" x="958" y="91">160592</text><text class="d" x="958" y="104">27.55%</text>
</g>

<g id="row38" transform="translate(32,5563)">
<use href="#grid"/>
<rect class="sr" x="240" y="11.5" width="45" height="7"/>
<use href="#r" x="30" y="15"/><use href="#r" x="60" y="15"/><use href="#r" x="90" y="15"/><use href="#r" x="120" y="15"/><use href="#r" x="150" y="15"/><use href="#r" x="240" y="15"/><use href="#r" x="300" y="15"/><use href="#r" x="330" y="15"/><use href="#r" x="480" y="15"/><use href="#r" x="600" y="15"/><use href="#r" x="630" y="15"/>
<use href="#o" x="180" y="60"/><use href="#o" x="360" y="60"/><use href="#b" x="390" y="45"/><use href="#b" x="690" y="45"/><use href="#b" x="840" y="45"/>
<use href="#g" x="450"/><use href="#g" x="510"/><use href="#g" x="540"/><use href="#g" x="720"/><use href="#g" x="780"/><use href="#g" x="810"/><use href="#g" x="930"/>
<use href="#y" x="570" y="30"/><use href="#y" x="660" y="30"/><use href="#y" x="870" y="30"/>
<text class="n" x="1" y="-6.5">153</text><text class="n" x="241" y="-6.5">154</text><text class="n" x="481" y="-6.5">155</text><text class="n" x="721" y="-6.5">156</text>
<text class="a" x="238" y="78">150</text><text class="c" x="238" y="91">161492</text><text class="d" x="238" y="104">27.55%</text>
<text class="a" x="478" y="78">159</text><text class="c" x="478" y="91">162446</text><text class="d" x="478" y="104">27.55%</text>
<text class="a" x="718" y="78">200</text><text class="c" x="718" y="91">163646</text><text class="d" x="718" y="104">27.55%</text>
<text class="a" x="958" y="78">150</text><text class="c" x="958" y="91">164546</text><text class="d" x="958" y="104">27.55%</text>
</g>

<g id="row39" transform="translate(32,5704)">
<use href="#grid"/>
<rect class="sb" x="180" y="41.5" width="45" height="7"/><rect class="sg" x="240" y="-3.5" width="45" height="7"/><rect class="sr" x="720" y="11.5" width="45" height="7"/>
<use href="#g" x="30"/><use href="#g" x="60"/><use href="#g" x="90"/><use href="#g" x="120"/><use href="#g" x="150"/><use href="#g" x="240"/><use href="#g" x="300"/><use href="#g" x="330"/><use href="#g" x="450"/><use href="#g" x="510"/><use href="#g" x="540"/><use href="#g" x="570"/><use href="#g" x="600"/><use href="#g" x="630"/>
<use href="#b" x="180" y="45"/><use href="#b" x="360" y="45"/><use href="#b" x="660" y="45"/><use href="#y" x="390" y="30"/>
<use href="#R" x="720" y="15"/><use href="#R" x="780" y="15"/><use href="#R" x="810" y="15"/><use href="#R" x="930" y="15"/><use href="#O" x="840" y="60"/><use href="#B" x="870" y="45"/>
<rect class="vg" x="720" width="210" height="61"/><rect class="vp" x="29.4" width="8.5" height="61"/><rect class="vb" x="37.9" width="922.1" height="61"/>
<text class="n" x="1" y="-6.5">157</text><text class="n" x="241" y="-6.5">158</text><text class="n" x="481" y="-6.5">159</text><text class="n" x="721" y="-6.5">160</text>
<text class="a" x="238" y="78">159</text><text class="c" x="238" y="91">166454</text><text class="d" x="238" y="104">17.08%</text>
<text class="a" x="478" y="78">159</text><text class="c" x="478" y="91">168362</text><text class="d" x="478" y="104">4.58%</text>
<text class="a" x="718" y="78">150</text><text class="c" x="718" y="91">170162</text><text class="d" x="718" y="104">0.00%</text>
<text class="a" x="958" y="78">159</text><text class="c" x="958" y="91">172070</text><text class="d" x="958" y="104">23.44%</text>
</g>

<g id="row40" transform="translate(32,5845)">
<use href="#grid"/>
<rect class="sr" x="30" y="11.5" width="45" height="7"/><rect class="sr" x="240" y="11.5" width="45" height="7"/>
<use href="#r" x="30" y="15"/><use href="#r" x="90" y="15"/><use href="#r" x="120" y="15"/><use href="#r" x="150" y="15"/><use href="#r" x="240" y="15"/><use href="#r" x="300" y="15"/><use href="#r" x="330" y="15"/><use href="#r" x="480" y="15"/><use href="#r" x="600" y="15"/><use href="#r" x="630" y="15"/>
<use href="#o" x="180" y="60"/><use href="#o" x="360" y="60"/><use href="#b" x="390" y="45"/><use href="#b" x="690" y="45"/>
<use href="#g" x="450"/><use href="#g" x="510"/><use href="#g" x="540"/><use href="#g" x="720"/><use href="#g" x="780"/><use href="#y" x="570" y="30"/><use href="#y" x="660" y="30"/>
<rect class="vb" x="0" width="616.6" height="61"/><rect class="vp" x="616.6" width="13" height="61"/>
<text class="n" x="1" y="-6.5">161</text><text class="n" x="241" y="-6.5">162</text><text class="n" x="481" y="-6.5">163</text><text class="n" x="721" y="-6.5">164</text>
<text class="a" x="238" y="78">134</text><text class="c" x="238" y="91">173678</text><text class="d" x="238" y="104">10.94%</text>
<text class="a" x="478" y="78">159</text><text class="c" x="478" y="91">175586</text><text class="d" x="478" y="104">0.00%</text>
<text class="a" x="718" y="78">200</text><text class="c" x="718" y="91">177686</text><text class="d" x="718" y="104">0.00%</text>
<text class="a" x="958" y="78">50</text><text class="c" x="958" y="91">177986</text><text class="d" x="958" y="104">0.00%</text>
</g>

<g id="row41" transform="translate(32,5986)">
<use href="#grid"/>
<use href="#g" x="240"/><use href="#g" x="300"/><use href="#y" x="750" y="30"/><use href="#y" x="810" y="30"/><use href="#y" x="870" y="30"/><use href="#b" x="720" y="45"/><use href="#b" x="780" y="45"/><use href="#b" x="840" y="45"/><use href="#b" x="930" y="45"/>
<text class="n" x="1" y="-6.5">165</text><text class="n" x="241" y="-6.5">166</text><text class="n" x="481" y="-6.5">167</text><text class="n" x="721" y="-6.5">168</text>
<text class="a" x="238" y="78">0</text><text class="c" x="238" y="91">177986</text><text class="d" x="238" y="104">0.00%</text>
<text class="a" x="478" y="78">50</text><text class="c" x="478" y="91">178286</text><text class="d" x="478" y="104">0.00%</text>
<text class="a" x="718" y="78">0</text><text class="c" x="718" y="91">178286</text><text class="d" x="718" y="104">0.00%</text>
<text class="a" x="958" y="78">175</text><text class="c" x="958" y="91">179336</text><text class="d" x="958" y="104">0.00%</text>
</g>

<g id="row42" transform="translate(32,6127)">
<rect class="bd" x="30" y="-10" width="194" height="82"/><use href="#grid"/><use href="#P5"/>
<rect class="vg" x="30" width="194" height="61"/>
<text class="n" x="1" y="-6.5">169</text><text class="n" x="241" y="-6.5">170</text><text class="n" x="481" y="-6.5">171</text><text class="n" x="721" y="-6.5">172</text>
<text class="a" x="238" y="78">90</text><text class="c" x="238" y="91">179876</text><text class="d" x="238" y="104">29.25%</text>
<text class="a" x="478" y="78">175</text><text class="c" x="478" y="91">180926</text><text class="d" x="478" y="104">29.25%</text>
<text class="a" x="718" y="78">90</text><text class="c" x="718" y="91">181466</text><text class="d" x="718" y="104">29.25%</text>
<text class="a" x="958" y="78">100</text><text class="c" x="958" y="91">182066</text><text class="d" x="958" y="104">29.25%</text>
</g>

<g id="row43" transform="translate(32,6268)">
<use href="#grid"/><use href="#P2"/>
<text class="n" x="1" y="-6.5">173</text><text class="n" x="241" y="-6.5">174</text><text class="n" x="481" y="-6.5">175</text><text class="n" x="721" y="-6.5">176</text>
<text class="a" x="238" y="78">100</text><text class="c" x="238" y="91">182666</text><text class="d" x="238" y="104">29.25%</text>
<text class="a" x="478" y="78">100</text><text class="c" x="478" y="91">183266</text><text class="d" x="478" y="104">29.25%</text>
<text class="a" x="718" y="78">100</text><text class="c" x="718" y="91">183866</text><text class="d" x="718" y="104">29.25%</text>
<text class="a" x="958" y="78">175</text><text class="c" x="958" y="91">184916</text><text class="d" x="958" y="104">29.25%</text>
</g>

<g id="row44" transform="translate(32,6409)">
<use href="#grid"/>
<rect class="sy" x="150" y="26.5" width="75" height="7"/><rect class="sb" x="630" y="41.5" width="75" height="7"/>
<use href="#y" x="30" y="30"/><use href="#y" x="150" y="30"/><use href="#y" x="270" y="30"/><use href="#y" x="330" y="30"/><use href="#y" x="390" y="30"/><use href="#y" x="570" y="30"/>
<use href="#b" x="90" y="45"/><use href="#b" x="240" y="45"/><use href="#b" x="300" y="45"/><use href="#b" x="360" y="45"/><use href="#b" x="510" y="45"/><use href="#b" x="630" y="45"/><use href="#o" x="450" y="60"/>
<use href="#G" x="720"/><use href="#G" x="750"/><use href="#G" x="840"/><use href="#G" x="870"/>
<rect class="vg" x="720" width="150" height="61"/>
<text class="n" x="1" y="-6.5">177</text><text class="n" x="241" y="-6.5">178</text><text class="n" x="481" y="-6.5">179</text><text class="n" x="721" y="-6.5">180</text>
<text class="a" x="238" y="78">90</text><text class="c" x="238" y="91">185456</text><text class="d" x="238" y="104">29.25%</text>
<text class="a" x="478" y="78">175</text><text class="c" x="478" y="91">186506</text><text class="d" x="478" y="104">29.25%</text>
<text class="a" x="718" y="78">90</text><text class="c" x="718" y="91">187046</text><text class="d" x="718" y="104">29.25%</text>
<text class="a" x="958" y="78">100</text><text class="c" x="958" y="91">187646</text><text class="d" x="958" y="104">54.25%</text>
</g>

<g id="row45" transform="translate(32,6550)">
<use href="#grid"/><use href="#P3"/>
<text class="n" x="1" y="-6.5">181</text><text class="n" x="241" y="-6.5">182</text><text class="n" x="481" y="-6.5">183</text><text class="n" x="721" y="-6.5">184</text>
<text class="a" x="238" y="78">200</text><text class="c" x="238" y="91">188846</text><text class="d" x="238" y="104">54.25%</text>
<text class="a" x="478" y="78">100</text><text class="c" x="478" y="91">189446</text><text class="d" x="478" y="104">54.25%</text>
<text class="a" x="718" y="78">200</text><text class="c" x="718" y="91">190646</text><text class="d" x="718" y="104">54.25%</text>
<text class="a" x="958" y="78">175</text><text class="c" x="958" y="91">191696</text><text class="d" x="958" y="104">54.25%</text>
</g>

<g id="row46" transform="translate(32,6691)">
<use href="#grid"/><use href="#P4"/>
<text class="n" x="1" y="-6.5">185</text><text class="n" x="241" y="-6.5">186</text><text class="n" x="481" y="-6.5">187</text><text class="n" x="721" y="-6.5">188</text>
<text class="a" x="238" y="78">90</text><text class="c" x="238" y="91">192236</text><text class="d" x="238" y="104">54.25%</text>
<text class="a" x="478" y="78">175</text><text class="c" x="478" y="91">193286</text><text class="d" x="478" y="104">54.25%</text>
<text class="a" x="718" y="78">90</text><text class="c" x="718" y="91">193826</text><text class="d" x="718" y="104">54.25%</text>
<text class="a" x="958" y="78">100</text><text class="c" x="958" y="91">194426</text><text class="d" x="958" y="104">54.25%</text>
</g>

<g id="row47" transform="translate(32,6832)">
<use href="#grid"/><use href="#P3"/>
<rect class="vp" x="150.2" width="11.1" height="61"/><rect class="vb" x="161.3" width="798.7" height="61"/>
<text class="n" x="1" y="-6.5">189</text><text class="n" x="241" y="-6.5">190</text><text class="n" x="481" y="-6.5">191</text><text class="n" x="721" y="-6.5">192</text>
<text class="a" x="238" y="78">200</text><text class="c" x="238" y="91">196076</text><text class="d" x="238" y="104">50.23%</text>
<text class="a" x="478" y="78">100</text><text class="c" x="478" y="91">197276</text><text class="d" x="478" y="104">37.73%</text>
<text class="a" x="718" y="78">200</text><text class="c" x="718" y="91">199676</text><text class="d" x="718" y="104">25.23%</text>
<text class="a" x="958" y="78">175</text><text class="c" x="958" y="91">201776</text><text class="d" x="958" y="104">12.73%</text>
</g>

<g id="row48" transform="translate(32,6973)">
<use href="#grid"/>
<rect class="sy" x="150" y="26.5" width="75" height="7"/><rect class="sg" x="720" y="-3.5" width="240" height="7"/>
<use href="#y" x="30" y="30"/><use href="#y" x="150" y="30"/><use href="#y" x="270" y="30"/><use href="#y" x="330" y="30"/><use href="#y" x="390" y="30"/><use href="#y" x="570" y="30"/><use href="#y" x="660" y="30"/>
<use href="#b" x="90" y="45"/><use href="#b" x="240" y="45"/><use href="#b" x="300" y="45"/><use href="#b" x="360" y="45"/><use href="#b" x="690" y="45"/>
<use href="#g" x="450"/><use href="#g" x="510"/><use href="#g" x="540"/><use href="#g" x="720"/><use href="#r" x="480" y="15"/><use href="#r" x="600" y="15"/><use href="#r" x="630" y="15"/>
<rect class="vb" x="0" width="723" height="61"/>
<text class="n" x="1" y="-6.5">193</text><text class="n" x="241" y="-6.5">194</text><text class="n" x="481" y="-6.5">195</text><text class="n" x="721" y="-6.5">196</text>
<text class="a" x="238" y="78">90</text><text class="c" x="238" y="91">202856</text><text class="d" x="238" y="104">0.23%</text>
<text class="a" x="478" y="78">175</text><text class="c" x="478" y="91">204956</text><text class="d" x="478" y="104">0.00%</text>
<text class="a" x="718" y="78">200</text><text class="c" x="718" y="91">207356</text><text class="d" x="718" y="104">0.00%</text>
<text class="a" x="958" y="78">73</text><text class="c" x="958" y="91">207950</text><text class="d" x="958" y="104">0.00%</text>
</g>

<g id="row49" transform="translate(32,7114)">
<use href="#grid"/>
<rect class="sg" x="0" y="-3.5" width="960" height="7"/>
<text class="n" x="1" y="-6.5">197</text><text class="n" x="241" y="-6.5">198</text><text class="n" x="481" y="-6.5">199</text><text class="n" x="721" y="-6.5">200</text>
<text class="a" x="238" y="78">48</text><text class="c" x="238" y="91">208238</text><text class="d" x="238" y="104">0.00%</text>
<text class="a" x="478" y="78">48</text><text class="c" x="478" y="91">208526</text><text class="d" x="478" y="104">0.00%</text>
<text class="a" x="718" y="78">48</text><text class="c" x="718" y="91">208814</text><text class="d" x="718" y="104">0.00%</text>
<text class="a" x="958" y="78">48</text><text class="c" x="958" y="91">209102</text><text class="d" x="958" y="104">0.00%</text>
</g>

<g id="row50" transform="translate(32,7255)">
<use href="#grid2"/>
<rect class="sg" x="0" y="-3.5" width="315" height="7"/>
<text class="n" x="1" y="-6.5">201</text><text class="n" x="241" y="-6.5">202</text>
<text class="a" x="238" y="78">48</text><text class="c" x="238" y="91">209390</text><text class="d" x="238" y="104">0.00%</text>
<text class="a" x="478" y="78">15</text><text class="c" x="478" y="91">209480</text><text class="d" x="478" y="104">0.00%</text>
</g>
</g>
</svg>
